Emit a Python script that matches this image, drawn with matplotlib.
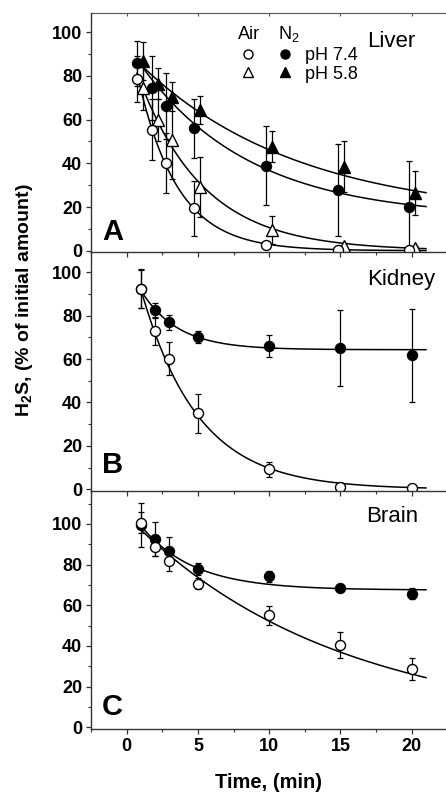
import numpy as np
import matplotlib
matplotlib.use("Agg")
import matplotlib.pyplot as plt
from matplotlib.ticker import MultipleLocator
from matplotlib.legend_handler import HandlerTuple
from matplotlib.lines import Line2D

plt.rcParams['font.family'] = ['Liberation Sans', 'DejaVu Sans']
plt.rcParams['mathtext.fontset'] = 'custom'
plt.rcParams['mathtext.rm'] = 'Liberation Sans'
plt.rcParams['mathtext.bf'] = 'Liberation Sans:bold'
plt.rcParams['mathtext.it'] = 'Liberation Sans:italic'

# ---------------- data ----------------
# Liver (panel A) – points are slightly offset in time in the original figure
liver_x_circ = [0.72, 1.77, 2.75, 4.75, 9.8, 14.8, 19.8]
liver_x_tri = [1.12, 2.2, 3.16, 5.15, 10.18, 15.22, 20.22]
liver_air74 = [78.6, 55.3, 40.0, 19.4, 2.6, 0.5, 0.3]
liver_air74_err = [10.5, 14, 13.7, 12.7, 1.5, 1.0, 1.0]
liver_n274 = [85.8, 74.4, 66.2, 56.0, 38.9, 27.8, 20.2]
liver_n274_err = [10.4, 14.8, 15, 13.5, 18, 21, 21]
liver_air58 = [74.6, 59.8, 50.7, 29.3, 9.5, 2.3, 1.1]
liver_air58_err = [10, 9.5, 18, 13.7, 6.4, 1.2, 1.0]
liver_n258 = [87.0, 76.4, 70.5, 64.5, 47.6, 38.5, 26.3]
liver_n258_err = [8.7, 7.0, 6.5, 6.4, 7.0, 11.8, 10.0]

# Kidney (panel B)
time_min = [1, 2, 3, 5, 10, 15, 20]
kidney_air = [92.3, 72.7, 60.2, 35.0, 9.2, 1.2, 0.5]
kidney_air_err = [8.8, 6.3, 7.6, 9.0, 3.4, 1.5, 1.5]
kidney_n2 = [92.3, 82.6, 77.0, 70.2, 66.2, 65.1, 61.7]
kidney_n2_err = [9.0, 3.2, 3.5, 2.8, 5.1, 17.5, 21.5]

# Brain (panel C)
brain_air = [100.7, 88.5, 81.9, 70.6, 55.0, 40.6, 28.8]
brain_air_err = [5.0, 4.3, 4.9, 2.7, 4.6, 6.3, 5.3]
brain_n2 = [99.5, 92.5, 86.8, 77.9, 74.2, 68.3, 65.7]
brain_n2_err = [11.0, 8.5, 6.6, 3.1, 2.5, 1.5, 2.8]

# exponential fit parameters: y = C + A*exp(-k t)   (A, k, C)
fit_liver_air74 = (105.3, 0.36, 0.0)
fit_liver_n274 = (79.7, 0.13, 15.0)
fit_liver_air58 = (95.4, 0.22, 0.0)
fit_liver_n258 = (76.6, 0.09, 15.0)
fit_kidney_air = (118.0, 0.25, 0.0)
fit_kidney_n2 = (40.3, 0.39, 64.3)
fit_brain_air = (104.0, 0.069, 0.0)
fit_brain_n2 = (41.3, 0.27, 67.5)

x_ticks = [0, 5, 10, 15, 20]
y_ticks = [0, 20, 40, 60, 80, 100]


def draw_series(ax, x, y, err, marker, filled, ms):
    ax.errorbar(x, y, yerr=err, fmt='none', ecolor='black', elinewidth=0.9,
                capsize=2.2, capthick=0.9, zorder=2)
    ax.plot(x, y, linestyle='none', marker=marker, ms=ms,
            mfc='black' if filled else 'white', mec='black', mew=1.0, zorder=4)


def draw_fit(ax, x0, x1, params):
    A, k, C = params
    xs = np.linspace(x0, x1, 300)
    ax.plot(xs, C + A * np.exp(-k * xs), color='black', lw=1.1, zorder=3)


fig = plt.figure(figsize=(4.46, 7.93), dpi=100)
L, W = 0.2043, 0.7987
axA = fig.add_axes([L, 0.6822, W, 0.3014])
axB = fig.add_axes([L, 0.3808, W, 0.3014])
axC = fig.add_axes([L, 0.0803, W, 0.3005])

for ax in (axA, axB, axC):
    ax.patch.set_visible(False)
    ax.set_xlim(-2.5, 22.5)
    ax.spines['right'].set_visible(False)
    ax.spines['top'].set_visible(False)
    for s in ('left', 'bottom'):
        ax.spines[s].set_linewidth(1.0)
        ax.spines[s].set_color('#333333')
        ax.spines[s].set_zorder(5)
    ax.set_xticks(x_ticks)
    ax.xaxis.set_minor_locator(MultipleLocator(2.5))
    ax.set_yticks(y_ticks)
    ax.yaxis.set_minor_locator(MultipleLocator(10))
    ax.tick_params(which='major', direction='out', length=3.5, width=0.9,
                   color='#333333', labelsize=13, pad=3)
    ax.tick_params(which='minor', direction='out', length=2.2, width=0.8,
                   color='#333333')
    for lab in ax.get_yticklabels() + ax.get_xticklabels():
        lab.set_fontweight('bold')

axA.set_ylim(-0.6, 108.8)
axB.set_ylim(-0.8, 109.3)
axC.set_ylim(-1.0, 116.2)
axA.tick_params(labelbottom=False)
axB.tick_params(labelbottom=False)

top = axA.secondary_xaxis('top')
top.set_xticks(x_ticks)
top.tick_params(direction='in', length=2, labeltop=False, color='#555555')
top.spines['top'].set_color('#555555')

# ---- panel A: Liver ----
draw_fit(axA, liver_x_circ[0], 21.0, fit_liver_air74)
draw_fit(axA, liver_x_circ[0], 21.0, fit_liver_n274)
draw_fit(axA, liver_x_tri[0], 21.0, fit_liver_air58)
draw_fit(axA, liver_x_tri[0], 21.0, fit_liver_n258)
draw_series(axA, liver_x_circ, liver_n274, liver_n274_err, 'o', True, 7.2)
draw_series(axA, liver_x_tri, liver_n258, liver_n258_err, '^', True, 8)
draw_series(axA, liver_x_tri, liver_air58, liver_air58_err, '^', False, 8)
draw_series(axA, liver_x_circ, liver_air74, liver_air74_err, 'o', False, 7.2)

oc = Line2D([], [], ls='none', marker='o', ms=6.5, mfc='white', mec='black', mew=1.0)
fc = Line2D([], [], ls='none', marker='o', ms=6.5, mfc='black', mec='black', mew=1.0)
ot = Line2D([], [], ls='none', marker='^', ms=7, mfc='white', mec='black', mew=1.0)
ft = Line2D([], [], ls='none', marker='^', ms=7, mfc='black', mec='black', mew=1.0)
axA.legend(handles=[(oc, fc), (ot, ft)], labels=['pH 7.4', 'pH 5.8'],
           handler_map={tuple: HandlerTuple(ndivide=None, pad=0)},
           handlelength=4.1, handletextpad=0.1, frameon=False,
           loc='upper left', bbox_to_anchor=(0.3886, 0.858),
           borderpad=0, borderaxespad=0, labelspacing=0.1, fontsize=13)
axA.text(0.412, 0.890, 'Air', transform=axA.transAxes, fontsize=13, va='baseline')
axA.text(0.5247, 0.890, 'N$_2$', transform=axA.transAxes, fontsize=13, va='baseline')
axA.text(0.909, 0.859, 'Liver', transform=axA.transAxes, fontsize=16,
         ha='right', va='baseline')
axA.text(0.031, 0.05, 'A', transform=axA.transAxes, fontsize=21,
         fontweight='bold', va='baseline')

# ---- panel B: Kidney ----
draw_fit(axB, 0.95, 21.0, fit_kidney_air)
draw_fit(axB, 0.95, 21.0, fit_kidney_n2)
draw_series(axB, time_min, kidney_n2, kidney_n2_err, 'o', True, 7.2)
draw_series(axB, time_min, kidney_air, kidney_air_err, 'o', False, 7.2)
axB.text(0.965, 0.862, 'Kidney', transform=axB.transAxes, fontsize=16,
         ha='right', va='baseline')
axB.text(0.031, 0.075, 'B', transform=axB.transAxes, fontsize=21,
         fontweight='bold', va='baseline')

# ---- panel C: Brain ----
draw_fit(axC, 0.95, 21.0, fit_brain_air)
draw_fit(axC, 0.95, 21.0, fit_brain_n2)
draw_series(axC, time_min, brain_n2, brain_n2_err, 'o', True, 7.2)
draw_series(axC, time_min, brain_air, brain_air_err, 'o', False, 7.2)
axC.text(0.918, 0.871, 'Brain', transform=axC.transAxes, fontsize=16,
         ha='right', va='baseline')
axC.text(0.031, 0.06, 'C', transform=axC.transAxes, fontsize=21,
         fontweight='bold', va='baseline')

fig.text(268.5 / 446, 0.0063, 'Time, (min)', ha='center', va='baseline',
         fontsize=14.5, fontweight='bold')
fig.text(25 / 446, 1 - 300 / 793, r'H$_{\mathbf{2}}$S, (% of initial amount)',
         rotation=90, ha='center', va='center', fontsize=14, fontweight='bold')

fig.savefig('out.png', dpi=100, facecolor='white')
